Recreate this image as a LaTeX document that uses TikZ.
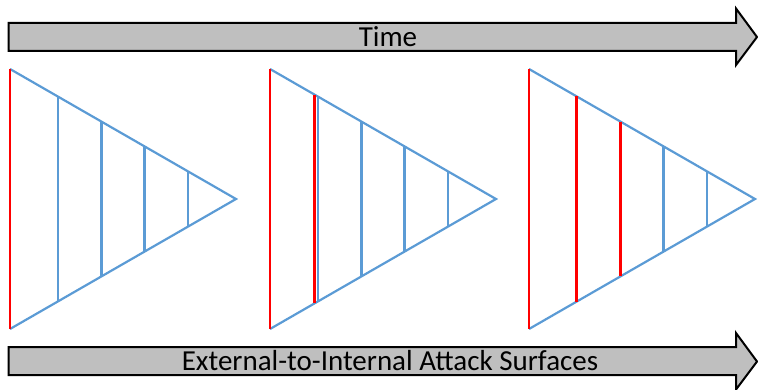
\documentclass[tikz,border=0pt]{standalone}
\usepackage{fontspec}
\setmainfont{Carlito}
\usetikzlibrary{calc}
\definecolor{edgeblue}{HTML}{5B9BD5}
\definecolor{barfill}{HTML}{BFBFBF}
\tikzset{
  bar/.style={draw=black,line width=2pt,fill=barfill,line join=miter},
  wedge/.style={draw=edgeblue,line width=2.2pt},
  breach/.style={draw=red,line width=2.8pt},
  label/.style={font=\fontsize{29}{33}\selectfont,inner sep=0pt}
}
% vertical cut through a triangle: left x, offset, style
\newcommand*{\cut}[3]
  {\draw[#3] (#1+#2,69+#2/226*130) -- (#1+#2,329-#2/226*130)}

\begin{document}
\begin{tikzpicture}[x=1pt,y=-1pt]
\useasboundingbox (0,0) rectangle (758,390);
% time arrow
\draw[bar] (8.5,23) -- (736,23) -- (736,8.5) -- (757,37) -- (736,65) -- (736,51) -- (8.5,51) -- cycle;
\node[label] (time) at (388,37) {Time};
% surfaces arrow
\draw[bar] (8.5,347) -- (736,347) -- (736,333) -- (757,361.5) -- (736,389.5) -- (736,375) -- (8.5,375) -- cycle;
\node[label] (surf) at (390,361) {External-to-Internal Attack Surfaces};
% triangles
\foreach \L/\name in {10/a,270/b,529/c} {
  \coordinate (\name top) at (\L,69);
  \coordinate (\name bot) at (\L,329);
  \coordinate (\name tip) at (\L+226,199);
  \draw[wedge] (\name top) -- (\name tip) -- (\name bot);
  \foreach \d in {48,91.5,134.5,178} \cut{\L}{\d}{wedge};
  \draw[breach] (\name top) -- (\name bot);
}
\cut{270}{44.7}{breach};
\cut{529}{47.7}{breach};
\cut{529}{91.7}{breach};
\end{tikzpicture}
\end{document}
